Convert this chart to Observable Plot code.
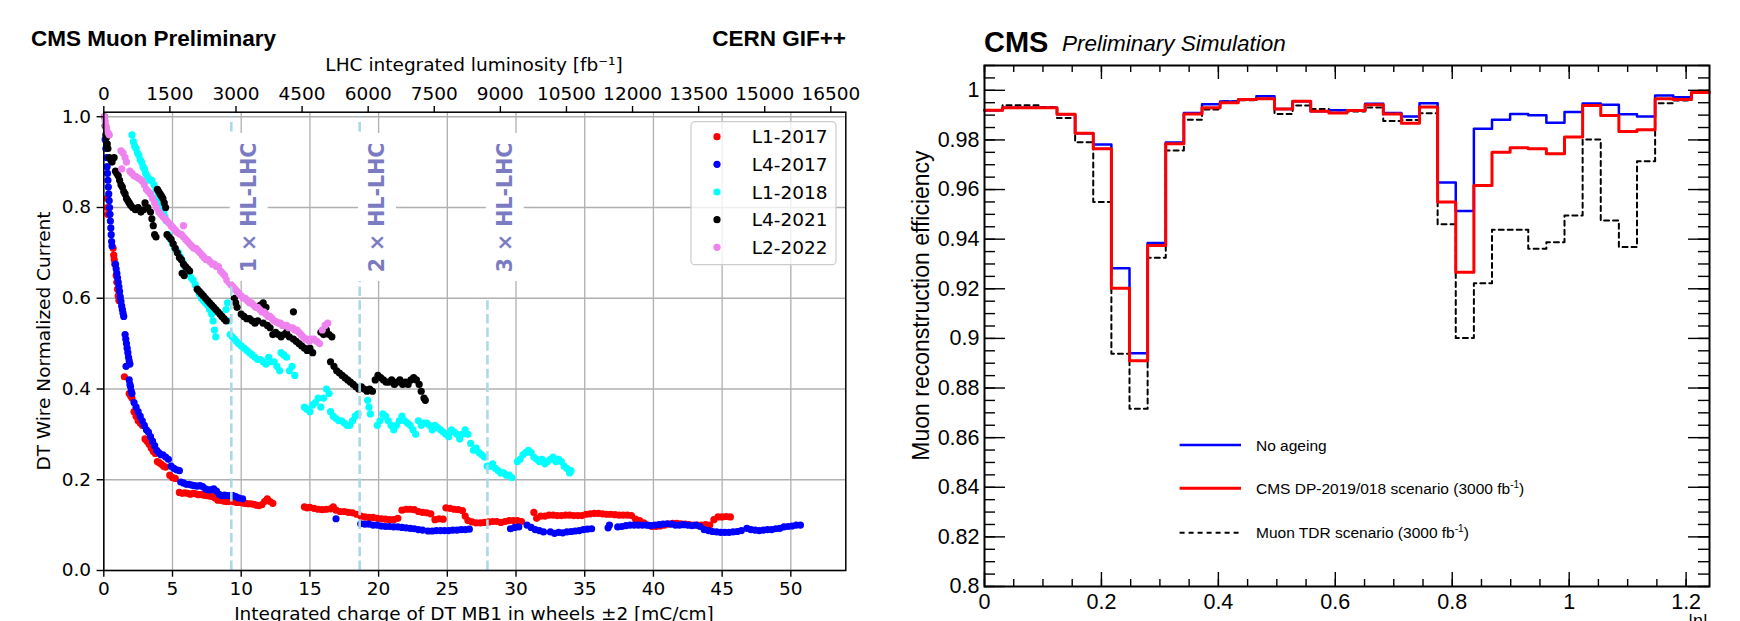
<!DOCTYPE html>
<html><head><meta charset="utf-8">
<script src="https://cdn.jsdelivr.net/npm/d3@7"></script>
<script src="https://cdn.jsdelivr.net/npm/@observablehq/plot@0.6"></script>
<style>
body{margin:0;background:#fff;}
#wrap{position:relative;width:1740px;height:621px;overflow:hidden;background:#fff;}
#left,#right,#ov{position:absolute;top:0;}
#left{left:0}#right{left:870px}#ov{left:0;pointer-events:none}
</style></head><body>
<div id="wrap"><div id="left"></div><div id="right"></div><svg id="ov" width="1740" height="621"></svg></div>
<script>
// ---------------- LEFT PANEL DATA ----------------
const seriesNames = ["L1-2017","L4-2017","L1-2018","L4-2021","L2-2022"];
const seriesColors = ["#ff0000","#0000ff","#00ffff","#000000","#ee82ee"];
const chargeTicks = [0,5,10,15,20,25,30,35,40,45,50];
const lumiTicks = [0,1500,3000,4500,6000,7500,9000,10500,12000,13500,15000,16500];
const currentTicks = [0,0.2,0.4,0.6,0.8,1.0];
const lumiPerCharge = 311.85;
const hlLines = [9.28, 18.62, 27.92];
const hlTops = [1.0, 1.0, 0.6];
const hlLabels = ["1 × HL-LHC","2 × HL-LHC","3 × HL-LHC"];
const hlLabelY = 0.8, hlLabelDx = 1.3;

const l1_2017 = [[0.25,0.82],[0.27,0.8],[0.29,0.785],[0.68,0.71],[0.72,0.695],[0.76,0.685],[0.8,0.675],
[0.9,0.65],[0.95,0.635],[1.0,0.62],[1.05,0.605],[1.1,0.595],[1.5,0.427],[1.85,0.39],[1.95,0.385],[2.05,0.38],
[2.2,0.35],[2.35,0.34],[2.5,0.33],[2.65,0.325],[2.8,0.32],[3.0,0.29],[3.15,0.285],[3.3,0.278],[3.45,0.27],[3.6,0.262],[3.75,0.258],
[3.9,0.24],[4.05,0.237],[4.2,0.234],[4.35,0.23],[4.5,0.228],[4.8,0.21],[5.0,0.205],[5.2,0.203],
[5.5,0.172],[5.7,0.17],[5.9,0.171],[6.1,0.17],[6.3,0.168],[6.5,0.17],[6.7,0.169],[6.9,0.167],[7.1,0.168],[7.3,0.166],[7.5,0.165],[7.7,0.164],[7.9,0.163],[8.1,0.16],[8.3,0.155],[8.5,0.155],[8.7,0.153],[8.9,0.152],[9.1,0.152],[9.3,0.153],[9.5,0.151],[9.7,0.15],[9.9,0.15],[10.1,0.149],[10.3,0.148],[10.5,0.147],[10.7,0.147],[10.9,0.146],[11.1,0.144],[11.3,0.143],[11.5,0.145],[11.7,0.152],[11.9,0.158],[12.1,0.152],[12.3,0.148],
[14.6,0.14],[14.8,0.138],[15.0,0.139],[15.3,0.137],[15.6,0.135],[15.9,0.134],[16.2,0.135],[16.5,0.136],[16.7,0.14],[16.9,0.133],[17.2,0.13],[17.5,0.13],[17.8,0.128],[18.1,0.127],[18.4,0.124],[18.7,0.12],[19.0,0.118],[19.3,0.117],[19.6,0.117],[19.9,0.115],[20.2,0.114],[20.5,0.113],[20.8,0.112],[21.1,0.112],[21.4,0.115],[21.7,0.133],[22.0,0.135],[22.3,0.135],[22.6,0.134],[22.9,0.13],[23.2,0.128],[23.5,0.127],[23.8,0.125],
[24.1,0.112],[24.4,0.114],[24.7,0.113],[24.9,0.138],[25.2,0.137],[25.5,0.135],[25.8,0.134],[26.1,0.132],
[26.3,0.12],[26.5,0.11],[26.8,0.107],[27.1,0.105],[27.4,0.105],[27.7,0.106],[28.0,0.107],[28.3,0.108],[28.6,0.108],[28.9,0.106],[29.2,0.108],[29.5,0.11],[29.8,0.11],[30.1,0.11],[30.4,0.108],
[31.3,0.128],[31.5,0.115],[31.8,0.12],[32.1,0.12],[32.4,0.122],[32.7,0.122],[33.0,0.121],[33.3,0.121],[33.6,0.122],[33.9,0.122],[34.2,0.121],[34.5,0.121],[34.8,0.121],[35.1,0.124],[35.4,0.125],[35.7,0.126],[36.0,0.126],[36.3,0.125],[36.6,0.124],[36.9,0.124],[37.2,0.123],[37.5,0.122],[37.8,0.122],[38.1,0.122],[38.4,0.121],[38.7,0.113],[39.0,0.11],[39.3,0.105],[39.6,0.1],[39.9,0.097],[40.2,0.097],[40.5,0.098],[40.8,0.1],[41.1,0.102],[41.4,0.104],[41.7,0.104],[42.0,0.103],[42.3,0.102],[42.6,0.101],[42.9,0.1],[43.2,0.1],[43.5,0.1],[43.8,0.101],[44.1,0.1],[44.4,0.112],[44.7,0.118],[45.0,0.118],[45.3,0.119],[45.6,0.118]];

const l4_2017 = [[0.1,0.95],[0.15,0.93],[0.2,0.91],[0.24,0.89],[0.27,0.875],[0.3,0.86],[0.33,0.845],[0.36,0.83],[0.39,0.815],[0.42,0.8],[0.45,0.785],[0.48,0.77],[0.51,0.755],[0.54,0.74],[0.57,0.725],[0.6,0.715],
[0.85,0.675],[0.9,0.665],[0.95,0.655],[1.0,0.645],[1.05,0.635],[1.1,0.625],[1.15,0.615],[1.2,0.603],[1.25,0.593],[1.3,0.583],[1.35,0.575],[1.4,0.567],[1.45,0.56],
[1.55,0.52],[1.6,0.51],[1.65,0.5],[1.7,0.49],[1.75,0.48],[1.8,0.47],[1.85,0.462],[1.9,0.455],[1.62,0.45],
[1.85,0.42],[1.9,0.41],[1.95,0.405],[2.0,0.395],[2.05,0.39],
[2.2,0.37],[2.35,0.36],[2.5,0.35],[2.65,0.34],[2.8,0.33],[2.95,0.32],[3.1,0.31],[3.25,0.305],[3.4,0.295],[3.55,0.285],[3.7,0.275],[3.85,0.265],[4.0,0.26],[4.15,0.255],[4.3,0.255],[4.5,0.25],[4.7,0.245],
[4.9,0.23],[5.1,0.225],[5.3,0.222],[5.5,0.22],
[5.6,0.195],[5.8,0.193],[6.0,0.19],[6.2,0.19],[6.4,0.188],[6.6,0.187],[6.8,0.186],[7.0,0.187],[7.2,0.185],[7.4,0.18],[7.6,0.178],[7.8,0.178],[8.0,0.18],[8.2,0.175],[8.4,0.168],[8.6,0.165],[8.8,0.166],[9.0,0.165],[9.2,0.165],[9.4,0.165],[9.6,0.163],[9.8,0.16],[10.1,0.158],
[16.9,0.114],
[18.7,0.103],[19.0,0.102],[19.3,0.102],[19.6,0.1],[19.9,0.1],[20.2,0.098],[20.5,0.097],[20.8,0.097],[21.1,0.096],[21.4,0.096],[21.7,0.095],[22.0,0.094],[22.3,0.093],[22.6,0.092],[22.9,0.09],[23.2,0.089],
[23.6,0.087],[23.9,0.087],[24.2,0.088],[24.5,0.088],[24.8,0.088],[25.1,0.088],[25.4,0.089],[25.7,0.089],[26.0,0.09],[26.3,0.09],[26.6,0.091],
[29.6,0.092],[29.9,0.095],[30.2,0.096],[30.8,0.1],[31.1,0.095],[31.4,0.09],[31.7,0.088],[32.0,0.085],
[32.5,0.085],[32.8,0.082],[33.1,0.084],[33.4,0.083],[33.7,0.085],[34.0,0.086],[34.3,0.087],[34.6,0.088],[34.9,0.09],[35.2,0.091],[35.5,0.092],
[36.7,0.094],[36.8,0.1],[37.4,0.096],[37.7,0.097],[38.0,0.099],[38.3,0.1],[38.6,0.1],[38.9,0.1],[39.2,0.1],[39.5,0.1],[39.8,0.099],[40.1,0.1],[40.4,0.101],[40.7,0.102],[41.0,0.103],[41.3,0.102],[41.6,0.1],[41.9,0.1],[42.2,0.101],[42.5,0.1],[42.8,0.099],[43.1,0.1],[43.4,0.097],
[43.7,0.09],[44.0,0.088],[44.3,0.086],[44.6,0.085],[44.9,0.084],[45.2,0.084],[45.5,0.084],[45.8,0.085],[46.1,0.086],[46.4,0.088],
[46.8,0.093],[47.1,0.09],[47.4,0.089],[47.7,0.088],[48.0,0.089],[48.3,0.09],[48.6,0.09],[48.9,0.092],[49.2,0.093],[49.5,0.096],[49.8,0.097],[50.1,0.098],[50.4,0.1],[50.7,0.1]];

const l1_2018 = [[2.05,0.96],[2.15,0.945],[2.25,0.935],[2.35,0.93],[2.45,0.92],[2.55,0.915],[2.65,0.905],[2.75,0.9],[2.85,0.89],[2.95,0.885],[3.05,0.875],[3.15,0.87],[3.25,0.865],[3.35,0.86],[3.5,0.86],[3.65,0.85],[3.8,0.84],[3.95,0.83],[4.05,0.82],[4.15,0.81],[4.25,0.8],[4.35,0.79],[4.45,0.78],[4.55,0.77],[4.7,0.74],[4.85,0.73],[5.0,0.72],[5.15,0.71],[5.3,0.705],[5.45,0.7],[5.6,0.69],[5.75,0.68],[5.9,0.67],[6.05,0.66],[6.2,0.655],[6.35,0.645],[6.5,0.64],[6.65,0.63],[6.8,0.62],[6.95,0.61],[7.1,0.6],[7.25,0.595],[7.4,0.59],[7.55,0.585],[7.7,0.575],[7.85,0.565],[7.95,0.55],[8.05,0.53],[8.15,0.515],[8.6,0.56],[8.9,0.575],[9.0,0.59],[9.1,0.55],[9.2,0.52],[9.35,0.515],[9.5,0.51],[9.65,0.505],[9.8,0.5],[10.0,0.495],[10.2,0.49],[10.4,0.485],[10.6,0.48],[10.8,0.475],[11.0,0.47],[11.2,0.465],[11.4,0.465],[11.6,0.46],[11.8,0.455],[12.0,0.47],[12.2,0.46],[12.4,0.46],[12.6,0.45],[12.8,0.44],[12.9,0.48],[13.1,0.475],[13.3,0.47],[13.5,0.44],[13.7,0.45],[13.9,0.43],
[14.6,0.36],[14.8,0.355],[15.0,0.35],[15.2,0.365],[15.4,0.37],[15.6,0.38],[15.8,0.36],[16.0,0.38],[16.2,0.4],[16.4,0.39],[16.5,0.35],[16.7,0.34],[16.9,0.335],[17.1,0.33],[17.3,0.33],[17.5,0.325],[17.7,0.32],[17.9,0.32],[18.1,0.33],[18.3,0.34],[18.5,0.345],[19.2,0.375],[19.3,0.36],[19.4,0.345],[19.9,0.32],[20.1,0.33],[20.3,0.345],[20.5,0.34],[20.7,0.33],[20.9,0.32],[21.1,0.31],[21.3,0.32],[21.5,0.33],[21.7,0.34],[21.9,0.33],[22.1,0.325],[22.3,0.32],[22.5,0.31],[22.7,0.3],[22.9,0.33],[23.1,0.32],[23.3,0.325],[23.5,0.325],[23.7,0.32],[23.9,0.31],[24.1,0.32],[24.3,0.315],[24.5,0.31],[24.7,0.305],[24.9,0.3],[25.1,0.295],[25.3,0.31],[25.5,0.305],[25.7,0.3],[25.9,0.29],[26.1,0.3],[26.3,0.31],[26.5,0.3],[26.7,0.28],[26.9,0.265],[27.1,0.27],[27.3,0.26],[27.5,0.255],[27.7,0.25],[27.9,0.23],[28.1,0.23],[28.3,0.235],[28.5,0.225],[28.7,0.22],[28.9,0.215],[29.1,0.215],[29.3,0.21],[29.5,0.21],[29.7,0.205],[30.1,0.24],[30.3,0.245],[30.5,0.255],[30.7,0.26],[30.9,0.265],[31.1,0.26],[31.3,0.25],[31.5,0.245],[31.7,0.24],[31.9,0.245],[32.1,0.235],[32.3,0.24],[32.5,0.245],[32.7,0.25],[32.9,0.24],[33.1,0.245],[33.3,0.24],[33.5,0.23],[33.7,0.225],[33.9,0.215],[34.0,0.22]];

const l4_2021 = [[0.05,1.0],[0.1,0.98],[0.15,0.96],[0.2,0.955],[0.25,0.94],[0.3,0.93],[0.4,0.91],[0.5,0.905],[0.6,0.9],[0.75,0.91],[0.85,0.88],[0.95,0.875],[1.05,0.87],[1.15,0.86],[1.25,0.85],[1.35,0.845],[1.45,0.835],[1.55,0.83],[1.65,0.82],[1.75,0.815],[1.85,0.81],[1.95,0.805],[2.1,0.8],[2.3,0.795],[2.5,0.8],[2.7,0.79],[2.9,0.795],[3.0,0.81],[3.2,0.8],[3.4,0.79],[3.5,0.775],[3.6,0.76],[3.7,0.74],[3.8,0.735],[3.9,0.84],[4.0,0.835],[4.1,0.83],[4.2,0.825],[4.3,0.82],[4.4,0.81],[4.5,0.8],[4.6,0.74],[4.75,0.735],[4.9,0.73],[5.05,0.72],[5.2,0.71],[5.35,0.7],[5.5,0.69],[5.65,0.685],[5.8,0.675],[5.95,0.67],[6.1,0.665],[6.25,0.66],[5.7,0.655],[5.85,0.65],[6.8,0.62],[6.95,0.615],[7.1,0.61],[7.25,0.605],[7.4,0.6],[7.55,0.595],[7.7,0.59],[7.85,0.585],[8.0,0.58],[8.15,0.575],[8.3,0.57],[8.45,0.565],[8.6,0.56],[8.75,0.555],[8.9,0.55],[9.5,0.6],[9.6,0.59],[9.7,0.58],[10.0,0.565],[10.2,0.56],[10.4,0.555],[10.6,0.555],[10.8,0.55],[11.0,0.545],[11.2,0.55],[11.4,0.585],[11.6,0.59],[11.8,0.58],[11.6,0.545],[11.9,0.54],[12.1,0.535],[12.3,0.52],[12.5,0.525],[12.7,0.52],[12.9,0.515],[13.1,0.52],[13.3,0.525],[13.5,0.515],[13.8,0.57],[13.8,0.51],[14.0,0.505],[14.2,0.5],[14.4,0.495],[14.6,0.49],[14.8,0.485],[15.0,0.49],[15.2,0.48],[15.8,0.525],[16.0,0.52],[16.2,0.53],[16.4,0.52],[16.6,0.515],[16.5,0.46],[16.75,0.45],[16.95,0.44],[17.15,0.435],[17.35,0.43],[17.55,0.425],[17.75,0.42],[17.95,0.415],[18.15,0.41],[18.35,0.405],[18.55,0.4],[18.75,0.405],[18.95,0.4],[19.15,0.395],[19.35,0.4],[19.55,0.395],[19.75,0.42],[19.95,0.43],[20.15,0.425],[20.35,0.42],[20.55,0.415],[20.75,0.415],[20.95,0.42],[21.15,0.41],[21.35,0.415],[21.55,0.42],[21.75,0.41],[21.95,0.415],[22.15,0.41],[22.35,0.42],[22.55,0.425],[22.75,0.42],[22.95,0.41],[23.1,0.395],[23.3,0.38],[23.4,0.375]];

const l2_2022 = [[0.05,1.0],[0.1,0.99],[0.15,0.98],[0.2,0.975],[0.3,0.965],[0.4,0.96],[1.25,0.925],[1.4,0.92],[1.55,0.91],[1.65,0.9],[1.3,0.885],[1.9,0.88],[2.05,0.875],[2.2,0.87],[2.35,0.868],[2.5,0.865],[2.65,0.862],[2.8,0.858],[2.95,0.85],[3.1,0.84],[3.25,0.835],[3.4,0.83],[3.55,0.82],[3.7,0.81],[3.85,0.8],[4.0,0.79],[4.15,0.785],[4.3,0.78],[4.45,0.775],[4.6,0.77],[4.75,0.765],[4.9,0.76],[5.05,0.755],[5.2,0.75],[5.35,0.745],[5.5,0.742],[5.8,0.76],[5.65,0.74],[5.8,0.735],[5.95,0.73],[6.1,0.725],[6.25,0.72],[6.4,0.715],[6.55,0.71],[6.7,0.71],[6.85,0.705],[7.0,0.7],[7.15,0.695],[7.3,0.69],[7.45,0.685],[7.6,0.685],[7.75,0.68],[7.9,0.675],[8.05,0.675],[8.2,0.67],[8.35,0.67],[8.5,0.66],[8.65,0.655],[8.8,0.65],[8.95,0.64],[9.1,0.635],[9.25,0.63],[9.4,0.625],[9.55,0.62],[9.7,0.615],[9.85,0.61],[10.0,0.605],[10.15,0.6],[10.3,0.6],[10.45,0.595],[10.6,0.59],[10.75,0.59],[10.9,0.585],[11.05,0.58],[11.2,0.58],[11.35,0.575],[11.5,0.57],[11.65,0.57],[11.8,0.565],[11.95,0.56],[12.1,0.56],[12.25,0.555],[12.4,0.55],[12.55,0.548],[12.7,0.545],[12.85,0.545],[13.0,0.54],[13.15,0.54],[13.3,0.54],[13.45,0.535],[13.6,0.535],[13.75,0.535],[13.9,0.53],[14.05,0.53],[14.2,0.525],[14.35,0.52],[14.5,0.515],[14.65,0.51],[14.8,0.51],[14.95,0.505],[15.1,0.51],[15.3,0.51],[15.5,0.505],[15.7,0.5],[15.9,0.53],[16.1,0.54],[16.3,0.545]];

// ---------------- RIGHT PANEL DATA ----------------
const etaBinWidth = 0.031;
const etaMajorTicks = [0,0.2,0.4,0.6,0.8,1.0,1.2];
const effMajorTicks = [0.8,0.82,0.84,0.86,0.88,0.9,0.92,0.94,0.96,0.98,1.0];
const histNames = ["No ageing","CMS DP-2019/018 scenario (3000 fb","Muon TDR scenario (3000 fb"];
const noAgeing = [0.992,0.993,0.993,0.993,0.9904,0.9827,0.9782,0.9283,0.894,0.9385,0.979,0.9909,0.9944,0.9955,0.9963,0.9976,0.9925,0.9956,0.9916,0.992,0.9919,0.9946,0.9909,0.9894,0.9948,0.9628,0.9514,0.9845,0.9881,0.9905,0.9899,0.9869,0.9913,0.9947,0.9942,0.9904,0.9894,0.9979,0.9972,0.9991];
const dp2019 = [0.992,0.993,0.993,0.993,0.9904,0.9827,0.9764,0.9202,0.891,0.9374,0.9785,0.9905,0.993,0.995,0.9963,0.9966,0.9925,0.9956,0.9916,0.9909,0.9919,0.9942,0.9905,0.9867,0.9933,0.955,0.9267,0.9616,0.975,0.9768,0.9764,0.9744,0.9812,0.9939,0.9898,0.9834,0.9841,0.9966,0.9963,0.9991];
const muonTDR = [0.992,0.994,0.994,0.9933,0.9888,0.9791,0.955,0.8938,0.8716,0.9325,0.9757,0.9881,0.9923,0.9956,0.996,0.9966,0.9905,0.9939,0.9925,0.992,0.9915,0.9931,0.9876,0.988,0.9908,0.946,0.9002,0.9222,0.9438,0.9438,0.9361,0.9388,0.9495,0.9802,0.9475,0.9368,0.9714,0.9948,0.9959,0.999];

// ---------------- LEFT PANEL ----------------
const DV = "DejaVu Sans", LS = "Liberation Sans, Arial, sans-serif";
const seriesData = [l1_2017, l4_2017, l1_2018, l4_2021, l2_2022];
const hl = hlLines.map((x, i) => ({x, top: hlTops[i], label: hlLabels[i]}));
const LW = 870, LH = 621, LML = 103.3, LMR = 24.7, LMT = 111.7, LMB = 51;

const left = Plot.plot({
  width: LW, height: LH, marginLeft: LML, marginRight: LMR, marginTop: LMT, marginBottom: LMB,
  style: {fontFamily: DV, fontSize: "18.5px", color: "black", background: "transparent", overflow: "visible"},
  x: {domain: [0, 54]},
  y: {domain: [0, 1.01]},
  marks: [
    Plot.ruleX(chargeTicks, {stroke: "#b0b0b0", strokeWidth: 1.3}),
    Plot.ruleY(currentTicks, {stroke: "#b0b0b0", strokeWidth: 1.3}),
    ...seriesData.map((s, i) => Plot.dot(s, {x: d => d[0], y: d => d[1], r: 3.6, fill: seriesColors[i], stroke: "none"})),
    Plot.ruleX(hl, {x: "x", y1: () => 0, y2: "top", stroke: "#add8e6", strokeWidth: 2.6, strokeDasharray: "9.5,4.2"}),
    Plot.rect(hl, {x1: d => d.x + hlLabelDx, x2: d => d.x + hlLabelDx, y1: () => hlLabelY, y2: () => hlLabelY,
      insetLeft: -19, insetRight: -19, insetTop: -74, insetBottom: -74, fill: "white"}),
    Plot.text(hl, {x: d => d.x + hlLabelDx, y: () => hlLabelY, text: "label", rotate: -90, fill: "#7b7bc2",
      fontSize: 20.5, fontWeight: "bold", textAnchor: "middle", lineAnchor: "middle", fontFamily: DV}),
    Plot.axisX(chargeTicks, {anchor: "bottom", tickSize: 6.7, tickPadding: 5, tickFormat: d => String(d), label: null, strokeWidth: 1.4}),
    Plot.axisX(lumiTicks.map(l => l / lumiPerCharge), {anchor: "top", tickSize: 6.7, tickPadding: 6, tickFormat: d => String(Math.round(d * lumiPerCharge)), label: null, strokeWidth: 1.4}),
    Plot.axisY(currentTicks, {anchor: "left", tickSize: 6.7, tickPadding: 6, tickFormat: d => d.toFixed(1), label: null, strokeWidth: 1.4}),
    Plot.frame({stroke: "black", strokeWidth: 1.5})
  ]
});
document.getElementById("left").appendChild(left);

// ---------------- RIGHT PANEL ----------------
const RW = 870, RH = 621, RML = 114, RMR = 31, RMT = 65, RMB = 35;
const rfw = RW - RML - RMR, rfh = RH - RMT - RMB;
const etaEdges = d3.range(noAgeing.length + 1).map(i => +(i * etaBinWidth).toFixed(3));
const steps = vals => vals.map((v, i) => ({eta: etaEdges[i], eff: v})).concat([{eta: etaEdges[vals.length], eff: vals[vals.length - 1]}]);
const etaMinor = d3.range(0, 1.2401, 0.05).map(v => +v.toFixed(3));
const effMinor = d3.range(0.8, 1.0101, 0.005).map(v => +v.toFixed(3));
const fmtR = d => String(+d.toFixed(2));

const right = Plot.plot({
  width: RW, height: RH, marginLeft: RML, marginRight: RMR, marginTop: RMT, marginBottom: RMB,
  style: {fontFamily: LS, fontSize: "21.5px", color: "black", background: "transparent", overflow: "visible"},
  x: {domain: [0, 1.24]},
  y: {domain: [0.8, 1.01]},
  marks: [
    Plot.line(steps(muonTDR), {x: "eta", y: "eff", curve: "step-after", stroke: "black", strokeWidth: 2, strokeDasharray: "5,4"}),
    Plot.line(steps(noAgeing), {x: "eta", y: "eff", curve: "step-after", stroke: "#0000ff", strokeWidth: 2.5}),
    Plot.line(steps(dp2019), {x: "eta", y: "eff", curve: "step-after", stroke: "#ff0000", strokeWidth: 3}),
    Plot.tickX(etaMinor, {x: d => d, insetTop: rfh - 7, stroke: "black", strokeWidth: 1.4}),
    Plot.tickX(etaMinor, {x: d => d, insetBottom: rfh - 7, stroke: "black", strokeWidth: 1.4}),
    Plot.tickX(etaMajorTicks, {x: d => d, insetTop: rfh - 14, stroke: "black", strokeWidth: 1.4}),
    Plot.tickX(etaMajorTicks, {x: d => d, insetBottom: rfh - 14, stroke: "black", strokeWidth: 1.4}),
    Plot.tickY(effMinor, {y: d => d, insetRight: rfw - 11, stroke: "black", strokeWidth: 1.4}),
    Plot.tickY(effMinor, {y: d => d, insetLeft: rfw - 11, stroke: "black", strokeWidth: 1.4}),
    Plot.tickY(effMajorTicks, {y: d => d, insetRight: rfw - 21, stroke: "black", strokeWidth: 1.4}),
    Plot.tickY(effMajorTicks, {y: d => d, insetLeft: rfw - 21, stroke: "black", strokeWidth: 1.4}),
    Plot.axisX(etaMajorTicks, {anchor: "bottom", tickSize: 0, tickPadding: 7, tickFormat: fmtR, label: null}),
    Plot.axisY(effMajorTicks, {anchor: "left", tickSize: 0, tickPadding: 5, tickFormat: fmtR, label: null}),
    Plot.frame({stroke: "black", strokeWidth: 2})
  ]
});
document.getElementById("right").appendChild(right);

// ---------------- TEXT & LEGENDS ----------------
const ov = d3.select("#ov");
function txt(x, y, s, o = {}) {
  const t = ov.append("text").attr("x", x).attr("y", y).text(s)
    .attr("font-family", o.ff || DV).attr("font-size", o.fs || 18.5)
    .attr("font-weight", o.fw || "normal").attr("font-style", o.fst || "normal")
    .attr("text-anchor", o.anchor || "start").attr("fill", o.fill || "black");
  if (o.rot) t.attr("transform", `rotate(${o.rot},${x},${y})`);
  return t;
}
txt(31, 45.5, "CMS Muon Preliminary", {ff: LS, fs: 22.5, fw: "bold"});
txt(846, 45.5, "CERN GIF++", {ff: LS, fs: 22.5, fw: "bold", anchor: "end"});
txt(474, 70.5, "LHC integrated luminosity [fb⁻¹]", {anchor: "middle"});
txt(474, 620, "Integrated charge of DT MB1 in wheels ±2 [mC/cm]", {anchor: "middle"});
txt(49.5, 341, "DT Wire Normalized Current", {anchor: "middle", rot: -90});

ov.append("rect").attr("x", 691).attr("y", 121.7).attr("width", 145).attr("height", 143).attr("rx", 4)
  .attr("fill", "white").attr("fill-opacity", 0.8).attr("stroke", "#cccccc").attr("stroke-width", 1.2);
seriesNames.forEach((n, i) => {
  const cy = 136.7 + i * 27.65;
  ov.append("circle").attr("cx", 717).attr("cy", cy).attr("r", 3.6).attr("fill", seriesColors[i]);
  txt(751.7, cy + 6.6, n);
});

txt(984, 52, "CMS", {ff: LS, fs: 29, fw: "bold"});
txt(1062, 51, "Preliminary Simulation", {ff: LS, fs: 22.5, fst: "italic"});
txt(928.8, 305.5, "Muon reconstruction efficiency", {ff: LS, fs: 23, anchor: "middle", rot: -90});
txt(1698, 627, "|η|", {ff: LS, fs: 18, anchor: "middle"});

const legStyles = [{s: "#0000ff", w: 2.5, d: null}, {s: "#ff0000", w: 3, d: null}, {s: "black", w: 2, d: "5,4"}];
const legY = [445, 488.3, 532.7];
histNames.forEach((n, i) => {
  const l = ov.append("line").attr("x1", 1179.6).attr("x2", 1241).attr("y1", legY[i]).attr("y2", legY[i])
    .attr("stroke", legStyles[i].s).attr("stroke-width", legStyles[i].w);
  if (legStyles[i].d) l.attr("stroke-dasharray", legStyles[i].d);
  const t = txt(1256, legY[i] + 5.6, n, {ff: LS, fs: 15.5});
  if (i > 0) {
    t.append("tspan").attr("dy", -6).attr("font-size", 10).text("-1");
    t.append("tspan").attr("dy", 6).text(")");
  }
});
</script></body></html>
